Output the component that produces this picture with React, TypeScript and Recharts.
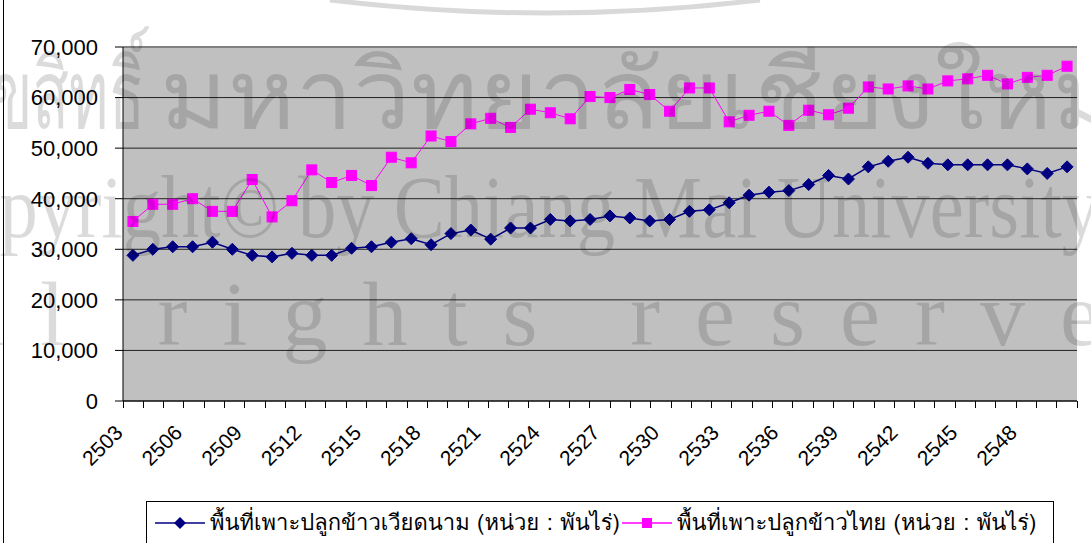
import React from 'react';
import { LineChart, Line, XAxis, YAxis, CartesianGrid, ReferenceLine } from 'recharts';

const years = [
  '2503', '2504', '2505', '2506', '2507', '2508', '2509', '2510', '2511', '2512',
  '2513', '2514', '2515', '2516', '2517', '2518', '2519', '2520', '2521', '2522',
  '2523', '2524', '2525', '2526', '2527', '2528', '2529', '2530', '2531', '2532',
  '2533', '2534', '2535', '2536', '2537', '2538', '2539', '2540', '2541', '2542',
  '2543', '2544', '2545', '2546', '2547', '2548', '2549', '2550',
];

// พันไร่
const vietnamArea = [
  28800, 30000, 30500, 30500, 31400, 30000, 28800, 28500, 29200, 28800,
  28800, 30200, 30500, 31400, 32100, 30900, 33100, 33800, 32000, 34200,
  34200, 35900, 35600, 35900, 36600, 36200, 35600, 35900, 37500, 37800,
  39200, 40700, 41300, 41600, 42800, 44600, 43900, 46300, 47400, 48200,
  47000, 46700, 46700, 46700, 46700, 45900, 45000, 46300,
];

const thaiArea = [
  35500, 38900, 38900, 40000, 37500, 37500, 43800, 36400, 39600, 45700,
  43200, 44600, 42600, 48200, 47100, 52400, 51300, 54800, 55900, 54100,
  57700, 57000, 55800, 60200, 60000, 61600, 60600, 57300, 61900, 61900,
  55200, 56500, 57300, 54500, 57500, 56600, 57900, 62100, 61700, 62300,
  61700, 63300, 63700, 64400, 62700, 64000, 64400, 66200,
];

const yTicks = [0, 10000, 20000, 30000, 40000, 50000, 60000, 70000];
const yMax = 70000;

const vietnamName = 'พื้นที่เพาะปลูกข้าวเวียดนาม (หน่วย : พันไร่)';
const thaiName = 'พื้นที่เพาะปลูกข้าวไทย (หน่วย : พันไร่)';

const W = 1091;
const H = 543;
const margin = { top: 47, right: 14, left: 0, bottom: 0 };
const yAxisW = 123;
const xAxisH = 142;
const plotH = H - margin.top - margin.bottom - xAxisH;
const band = (W - margin.left - margin.right - yAxisW) / years.length;
const axisY = H - margin.bottom - xAxisH;
// category tick marks sit on the boundaries between years, 7px long
const edgeTicks = years.map((_, i) => i).concat(years.length);
const tickLen = (yMax / plotH) * 7;

const numFont = '"Liberation Sans", Arial, sans-serif';
const thaiFont = 'Tahoma, Loma, Garuda, Waree, "Noto Sans Thai", "DejaVu Sans", "Noto Sans", sans-serif';

const data = years.map((year, i) => ({ year, vn: vietnamArea[i], th: thaiArea[i] }));

function YearTick(props: any) {
  const { x, payload, index } = props;
  if (index % 3 !== 0) return <g />;
  const lx = x - 9;
  const ly = axisY + 33;
  return (
    <g transform={`translate(${lx},${ly}) rotate(-45)`}>
      <text x={0} y={0} textAnchor="end" fontFamily={numFont} fontSize={21} fill="#000">
        {payload.value}
      </text>
    </g>
  );
}

function Diamond(props: any) {
  const { cx, cy, index } = props;
  const r = 6;
  return <path key={`d${index}`} d={`M${cx},${cy - r}L${cx + r},${cy}L${cx},${cy + r}L${cx - r},${cy}Z`} fill="#000080" stroke="#000080" />;
}

function Square(props: any) {
  const { cx, cy, index } = props;
  const s = 5;
  return <rect key={`s${index}`} x={cx - s} y={cy - s} width={s * 2} height={s * 2} fill="#FF00FF" stroke="#FF00FF" />;
}

function Watermark() {
  return (
    <svg width={W} height={H} style={{ position: 'absolute', left: 0, top: 0, pointerEvents: 'none' }}>
      <g fill="#000" fillOpacity={0.14}>
        <text x={-45} y={128} textLength={190} lengthAdjust="spacingAndGlyphs" fontFamily={thaiFont} fontSize={96}>ลิขสิทธิ์</text>
        <text x={160} y={128} textLength={960} lengthAdjust="spacingAndGlyphs" fontFamily={thaiFont} fontSize={96}>มหาวิทยาลัยเชียงใหม่</text>
        <text x={-90} y={237} textLength={1190} lengthAdjust="spacingAndGlyphs" fontFamily='"Liberation Serif", serif' fontSize={88}>Copyright© by Chiang Mai University</text>
        <text x={-120} y={345} textLength={1300} lengthAdjust="spacing" fontFamily='"Liberation Serif", serif' fontSize={90}>All rights reserved</text>
      </g>
      <path d="M330,0 Q545,26 760,0" fill="none" stroke="#000" strokeOpacity={0.15} strokeWidth={5} />
    </svg>
  );
}

function LegendBox() {
  const items = [
    { name: vietnamName, color: '#000080', marker: 'diamond', x: 155 },
    { name: thaiName, color: '#FF00FF', marker: 'square', x: 622 },
  ];
  return (
    <div style={{ position: 'absolute', left: 146, top: 501, width: 906, height: 60, border: '1px solid #000', background: '#fff' }}>
      {items.map(it => (
        <div key={it.name} style={{ position: 'absolute', left: it.x - 147, top: 3, display: 'flex', alignItems: 'center', whiteSpace: 'nowrap' }}>
          <svg width={52} height={24}>
            <line x1={0} y1={12} x2={50} y2={12} stroke={it.color} strokeWidth={1.5} />
            {it.marker === 'diamond'
              ? <path d="M25,6L31,12L25,18L19,12Z" fill={it.color} />
              : <rect x={20} y={7} width={10} height={10} fill={it.color} />}
          </svg>
          <span style={{ fontFamily: thaiFont, fontSize: 22, color: '#000', marginLeft: 3 }}>{it.name}</span>
        </div>
      ))}
    </div>
  );
}

export default function App() {
  return (
    <div style={{ position: 'absolute', left: 0, top: 0, width: W, height: H, background: '#fff', overflow: 'hidden' }}>
      <div style={{ position: 'absolute', left: 3, top: -5, width: 2000, height: 2000, borderLeft: '1px solid #000' }} />
      <LineChart width={W} height={H} data={data} margin={margin}>
        <CartesianGrid vertical={false} stroke="#222" fill="#C0C0C0" fillOpacity={1} />
        <XAxis xAxisId="edges" type="number" domain={[0, years.length]} ticks={edgeTicks} height={0} hide allowDataOverflow />
        <XAxis dataKey="year" interval={0} height={xAxisH} tickLine={false} tickSize={0} tickMargin={0}
          padding={{ left: band / 2, right: band / 2 }}
          axisLine={{ stroke: '#000' }} tick={(p: any) => <YearTick {...p} />} />
        <YAxis width={yAxisW} domain={[0, yMax]} ticks={yTicks} interval={0}
          tickFormatter={(v: number) => v.toLocaleString('en-US')}
          tick={{ fontFamily: numFont, fontSize: 22, fill: '#000' }}
          tickSize={8} tickMargin={17} axisLine={{ stroke: '#000' }} tickLine={{ stroke: '#000' }} />
        <YAxis yAxisId="right" orientation="right" width={0} domain={[0, yMax]} tick={false} tickLine={false}
          axisLine={{ stroke: '#808080', strokeWidth: 2 }} />
        <ReferenceLine y={yMax} stroke="#808080" strokeWidth={2} />
        {edgeTicks.map(t => (
          <ReferenceLine key={`t${t}`} xAxisId="edges" ifOverflow="visible" stroke="#000" strokeWidth={1}
            shapeRendering="crispEdges" segment={[{ x: t, y: 0 }, { x: t, y: -tickLen }]} />
        ))}
        <Line type="linear" dataKey="vn" name={vietnamName} stroke="#000080" strokeWidth={1.5}
          dot={Diamond} activeDot={false} isAnimationActive={false} />
        <Line type="linear" dataKey="th" name={thaiName} stroke="#FF00FF" strokeWidth={1}
          dot={Square} activeDot={false} isAnimationActive={false} />
      </LineChart>
      <LegendBox />
      <Watermark />
    </div>
  );
}
